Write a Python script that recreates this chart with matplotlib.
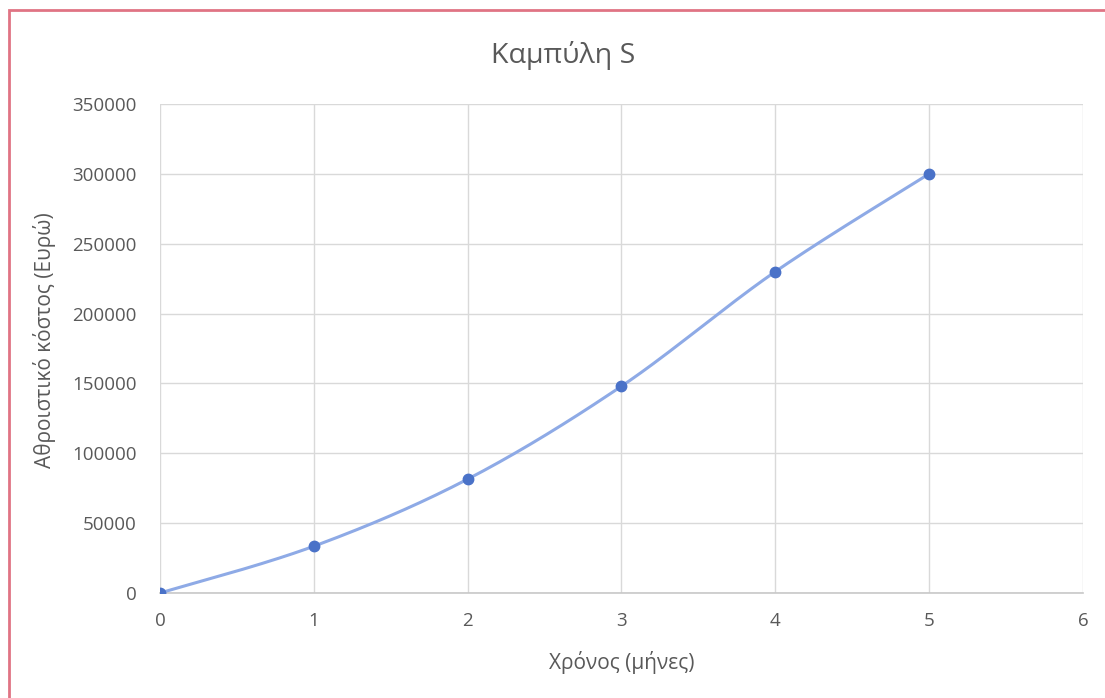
import matplotlib.pyplot as plt
import numpy as np
from matplotlib.patches import Rectangle

# data
months = [0, 1, 2, 3, 4, 5]
cost = [0, 33500, 81500, 148000, 230000, 300000]
xticks = [0, 1, 2, 3, 4, 5, 6]
yticks = [0, 50000, 100000, 150000, 200000, 250000, 300000, 350000]


def smooth_curve(x, y, n=40):
    # excel-like smoothing: cubic bezier with control points from neighbours
    x = np.asarray(x, float)
    y = np.asarray(y, float)
    px, py = [], []
    for i in range(len(x) - 1):
        x0, y0 = (x[i - 1], y[i - 1]) if i > 0 else (x[i], y[i])
        x3, y3 = (x[i + 2], y[i + 2]) if i + 2 < len(x) else (x[i + 1], y[i + 1])
        c1x = x[i] + (x[i + 1] - x0) / 6.0
        c1y = y[i] + (y[i + 1] - y0) / 6.0
        c2x = x[i + 1] - (x3 - x[i]) / 6.0
        c2y = y[i + 1] - (y3 - y[i]) / 6.0
        t = np.linspace(0, 1, n)
        px.extend((1 - t) ** 3 * x[i] + 3 * (1 - t) ** 2 * t * c1x + 3 * (1 - t) * t ** 2 * c2x + t ** 3 * x[i + 1])
        py.extend((1 - t) ** 3 * y[i] + 3 * (1 - t) ** 2 * t * c1y + 3 * (1 - t) * t ** 2 * c2y + t ** 3 * y[i + 1])
    return px, py


plt.rcParams['font.family'] = ['Open Sans', 'DejaVu Sans']

fig = plt.figure(figsize=(11.05, 6.98), dpi=100)
ax = fig.add_axes([0.1448, 0.1504, 0.8352, 0.7006])

sx, sy = smooth_curve(months, cost)
ax.plot(sx, sy, color='#8eaae6', linewidth=2.2, zorder=3)
ax.plot(months, cost, linestyle='none', marker='o', markersize=7.5,
        color='#4a72c8', zorder=4)

ax.set_xlim(0, 6)
ax.set_ylim(0, 350000)
ax.set_xticks(xticks)
ax.set_yticks(yticks)
ax.grid(True, color='#d9d9d9', linewidth=1)
ax.set_axisbelow(True)
for s in ['top', 'right', 'left']:
    ax.spines[s].set_visible(False)
ax.spines['bottom'].set_color('#c8c8c8')
ax.spines['bottom'].set_linewidth(1.2)
ax.tick_params(length=0, colors='#595959', labelsize=13.5)
ax.tick_params(axis='x', pad=14)
ax.tick_params(axis='y', pad=17)

fig.text(0.5095, 0.921, 'Καμπύλη S', fontsize=20.5, color='#595959',
         ha='center', va='center')
fig.text(622 / 1105, 1 - 662 / 698, 'Χρόνος (μήνες)', fontsize=15,
         color='#595959', ha='center', va='center')
fig.text(45 / 1105, 1 - 340 / 698, 'Αθροιστικό κόστος (Ευρώ)', fontsize=15,
         color='#595959', ha='center', va='center', rotation=90)

# pink frame around the chart
fig.patches.append(Rectangle((9 / 1105, -0.05), 1.2, 1.05 - 10 / 698,
                             transform=fig.transFigure, fill=False,
                             edgecolor='#e07484', linewidth=2))

fig.savefig('out.png', dpi=100)
